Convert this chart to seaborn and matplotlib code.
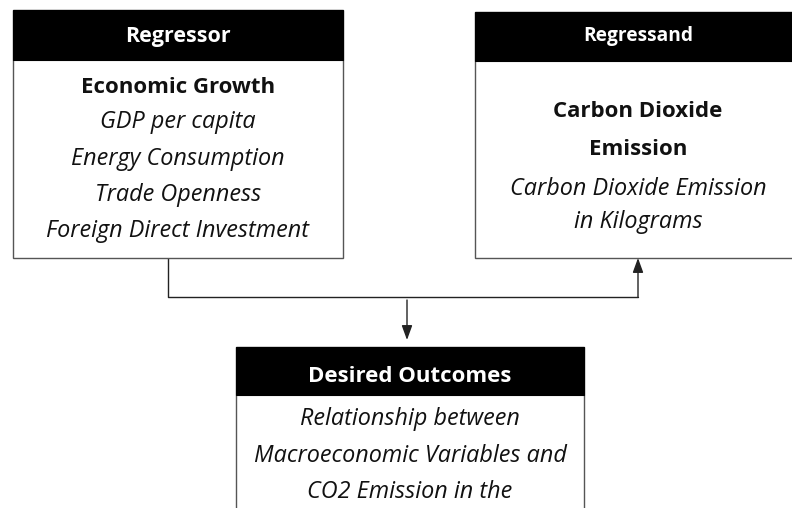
import matplotlib
matplotlib.use("Agg")
import matplotlib.pyplot as plt
from matplotlib.patches import Rectangle
import seaborn as sns

sns.set_theme(style="white")
plt.rcParams['font.family'] = ['Open Sans', 'DejaVu Sans']

# box contents
regressor_title = "Regressor"
regressor_head = ["Economic Growth"]
regressor_items = ["GDP per capita", "Energy Consumption", "Trade Openness",
                   "Foreign Direct Investment"]

regressand_title = "Regressand"
regressand_head = ["Carbon Dioxide", "Emission"]
regressand_items = ["Carbon Dioxide Emission", "in Kilograms"]

outcome_title = "Desired Outcomes"
outcome_items = ["Relationship between", "Macroeconomic Variables and",
                 "CO2 Emission in the"]

FS_BOLD = 16
FS_ITAL = 16.8
edge = "#555555"

fig = plt.figure(figsize=(7.92, 5.08), dpi=100)
ax = fig.add_axes([0, 0, 1, 1])
ax.set_xlim(0, 792)
ax.set_ylim(508, 0)
ax.axis("off")


def box(x0, x1, y0, yh, y1, title, head, items, base_title, bases, fs_title):
    ax.add_patch(Rectangle((x0, y0), x1 - x0, y1 - y0, facecolor="white",
                           edgecolor=edge, lw=1.0, zorder=1))
    ax.add_patch(Rectangle((x0, y0), x1 - x0, yh - y0, facecolor="black",
                           edgecolor="black", lw=0.8, zorder=2))
    cx = (x0 + x1) / 2
    ax.text(cx, base_title, title, color="white", fontsize=fs_title,
            fontweight="bold", ha="center", va="baseline", zorder=3)
    lines = [(t, "bold", "normal", FS_BOLD) for t in head] + \
            [(t, "normal", "italic", FS_ITAL) for t in items]
    for (t, w, s, fs), b in zip(lines, bases):
        ax.text(cx, b, t, color="#111111", fontsize=fs, fontweight=w,
                fontstyle=s, ha="center", va="baseline", zorder=3)


box(13, 343, 10, 60, 258, regressor_title, regressor_head, regressor_items,
    42, [93, 128, 165, 201, 237], 15.5)
box(475, 801, 12, 61, 258, regressand_title, regressand_head, regressand_items,
    41, [117, 155, 195, 228], 13.8)
box(236, 584, 347, 395, 540, outcome_title, [], outcome_items,
    382, [425, 462, 498], 16)

# connectors
lc = "#222222"
arrow = dict(arrowstyle="-|>,head_length=0.55,head_width=0.2", color=lc,
             lw=1.0, mutation_scale=16, shrinkA=0, shrinkB=0)
ax.plot([168, 168, 638], [258, 297, 297], color=lc, lw=1.0, zorder=0)
ax.annotate("", xy=(638, 258), xytext=(638, 297), arrowprops=arrow)
ax.annotate("", xy=(407, 340), xytext=(407, 300), arrowprops=arrow)

fig.savefig("out.png", dpi=100)
